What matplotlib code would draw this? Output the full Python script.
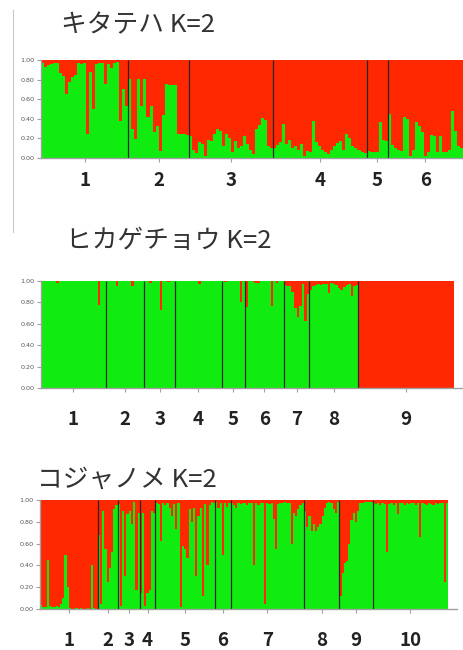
import numpy as np
import matplotlib
matplotlib.use("Agg")
import matplotlib.pyplot as plt
from matplotlib.transforms import blended_transform_factory
from matplotlib.lines import Line2D

plt.rcParams['font.family'] = ['Noto Sans CJK JP', 'DejaVu Sans']

# ---- data: green-cluster membership (Q) per individual, grouped by population ----
kitateha_title = "キタテハ K=2"
kitateha_pops = ["1", "2", "3", "4", "5", "6"]
kitateha_q = [
    [0.97, 0.93, 0.95, 0.96, 0.97, 0.97, 0.87, 0.84, 0.65, 0.78, 0.83, 0.85, 0.97, 0.96, 0.97,
     0.25, 0.88, 0.50, 0.96, 0.97, 0.97, 0.76, 0.96, 0.92, 0.97, 0.98, 0.38, 0.70, 0.53],
    [0.81, 0.30, 0.19, 0.81, 0.53, 0.81, 0.42, 0.53, 0.27, 0.33, 0.07, 0.44, 0.76, 0.75, 0.74,
     0.75, 0.24, 0.24, 0.24, 0.23],
    [0.22, 0.08, 0.05, 0.16, 0.14, 0.02, 0.18, 0.17, 0.24, 0.30, 0.28, 0.12, 0.24, 0.20, 0.06,
     0.17, 0.10, 0.12, 0.22, 0.14, 0.08, 0.04, 0.30, 0.34, 0.41, 0.39, 0.12, 0.10],
    [0.10, 0.13, 0.16, 0.35, 0.14, 0.18, 0.10, 0.12, 0.08, 0.14, 0.02, 0.07, 0.06, 0.38, 0.16,
     0.12, 0.08, 0.06, 0.04, 0.08, 0.12, 0.15, 0.17, 0.08, 0.25, 0.20, 0.12, 0.10, 0.08, 0.06, 0.05],
    [0.07, 0.06, 0.06, 0.06, 0.37, 0.18, 0.17],
    [0.45, 0.13, 0.10, 0.08, 0.07, 0.42, 0.40, 0.02, 0.08, 0.37, 0.33, 0.27, 0.02, 0.06, 0.23,
     0.22, 0.06, 0.22, 0.06, 0.06, 0.08, 0.48, 0.28, 0.12, 0.10],
]

hikagechou_title = "ヒカゲチョウ K=2"
hikagechou_pops = ["1", "2", "3", "4", "5", "6", "7", "8", "9"]
hikagechou_q = [
    [1, 1, 1, 1, 1, 1, 0.98, 1, 1, 1, 1, 1, 1, 1, 1, 1, 1, 1, 1, 1, 1, 1, 0.78, 1, 1],
    [1, 1, 1, 1, 0.95, 1, 1, 1, 1, 1, 0.95, 1, 1, 1, 1],
    [1, 1, 0.98, 1, 1, 1, 0.73, 1, 1, 0.99, 1, 1],
    [1, 1, 1, 1, 1, 1, 1, 1, 1, 0.97, 1, 1, 1, 1, 1, 1, 1, 1],
    [1, 0.99, 1, 1, 1, 1, 1, 0.80, 1],
    [0.76, 1, 1, 0.99, 0.98, 0.98, 1, 1, 1, 1, 0.77, 1, 0.98, 1, 1],
    [0.96, 0.95, 0.95, 0.90, 0.75, 0.66, 0.77, 0.97, 0.63, 0.88],
    [0.92, 0.95, 0.96, 0.97, 0.96, 0.97, 0.97, 0.89, 0.98, 0.97, 0.96, 0.93, 0.92, 0.94, 0.96,
     0.97, 0.86, 0.95, 0.96],
    [0.0] * 37,
]

kojanome_title = "コジャノメ K=2"
kojanome_pops = ["1", "2", "3", "4", "5", "6", "7", "8", "9", "10"]
kojanome_q = [
    [0.04, 0.02, 0.02, 0.45, 0.03, 0.02, 0.02, 0.03, 0.02, 0.05, 0.10, 0.50, 0.20, 0.01, 0.0,
     0.0, 0.01, 0.0, 0.01, 0.0, 0.0, 0.01, 0.0, 0.40, 0.01, 0.0],
    [0.68, 0.05, 0.90, 0.55, 0.25, 0.38, 0.52, 0.92, 0.95],
    [0.96, 0.03, 0.90, 0.30, 0.87, 0.90, 0.78, 0.98, 0.17, 0.88],
    [0.15, 0.88, 0.03, 0.15, 0.17, 0.90, 0.88],
    [0.97, 0.96, 0.62, 0.97, 0.95, 0.97, 0.93, 0.85, 0.96, 0.73, 0.97, 0.02, 0.58, 0.55, 0.47,
     0.92, 0.80, 0.93, 0.30, 0.85, 0.93, 0.12, 0.96, 0.40, 0.95, 0.98, 0.97],
    [0.98, 0.93, 0.97, 0.50, 0.97, 0.94, 0.97],
    [0.97, 0.95, 0.93, 0.97, 0.96, 0.97, 0.97, 0.95, 0.97, 0.97, 0.40, 0.97, 0.95, 0.97, 0.97,
     0.05, 0.97, 0.96, 0.97, 0.83, 0.55, 0.96, 0.97, 0.97, 0.98, 0.97, 0.97, 0.60, 0.88, 0.85,
     0.92, 0.95, 0.97],
    [0.90, 0.75, 0.85, 0.72, 0.78, 0.72, 0.75, 0.78, 0.85, 0.93, 0.97, 0.98, 0.97, 0.92, 0.88, 0.98],
    [0.12, 0.33, 0.42, 0.44, 0.60, 0.82, 0.88, 0.80, 0.90, 0.97, 0.97, 0.98, 0.98, 0.98, 0.98],
    [0.97, 0.96, 0.97, 0.95, 0.97, 0.96, 0.52, 0.96, 0.97, 0.95, 0.97, 0.87, 0.97, 0.97, 0.95,
     0.97, 0.96, 0.97, 0.97, 0.95, 0.97, 0.66, 0.97, 0.96, 0.95, 0.97, 0.96, 0.95, 0.97, 0.96,
     0.97, 0.97, 0.25, 0.97],
]

y_ticks = [0.0, 0.2, 0.4, 0.6, 0.8, 1.0]
y_ticklabels = ["0.00", "0.20", "0.40", "0.60", "0.80", "1.00"]

GREEN = "#10EC10"
RED = "#FF2800"
SEP = "#262626"
AXIS_GRAY = "#a0a0a0"

W, H = 464, 650
fig = plt.figure(figsize=(W / 100, H / 100), dpi=100)


def px_axes(left, top, right, bottom):
    return fig.add_axes([left / W, 1 - bottom / H, (right - left) / W, (bottom - top) / H])


def structure_panel(ax, groups, labels, title, title_xy, label_offset, xpad):
    q = np.concatenate([np.asarray(g, float) for g in groups])
    n = len(q)
    edges = np.arange(n + 1)
    # red cluster fills from the green share up to 1
    ax.stairs(np.ones(n), edges, baseline=q, fill=True, color=RED, linewidth=0)
    ax.stairs(q, edges, baseline=0, fill=True, color=GREEN, linewidth=0)

    counts = np.array([len(g) for g in groups])
    bounds = np.cumsum(counts)
    ax.vlines(bounds[:-1], 0, 1, color=SEP, linewidth=0.9)

    ax.set_xlim(0, n * xpad)
    ax.set_ylim(0, 1)
    for s in ("top", "right"):
        ax.spines[s].set_visible(False)
    for s in ("left", "bottom"):
        ax.spines[s].set_color(AXIS_GRAY)
        ax.spines[s].set_linewidth(1.0)
    ax.set_yticks(y_ticks)
    ax.set_yticklabels(y_ticklabels, fontsize=4.6, color="#555555", family="DejaVu Sans")
    ax.tick_params(axis="y", length=3, width=0.8, color=AXIS_GRAY, pad=1.5)

    centers = bounds - counts / 2.0
    ax.set_xticks(centers)
    ax.set_xticklabels([])
    ax.tick_params(axis="x", length=3, width=0.8, color=AXIS_GRAY)

    tr = blended_transform_factory(ax.transData, ax.transAxes)
    for c, lab in zip(centers, labels):
        ax.text(c, label_offset, lab, transform=tr, ha="center", va="center",
                fontsize=13.5, fontweight="bold", color="#222222")

    fig.text(title_xy[0] / W, 1 - title_xy[1] / H, title, ha="left", va="center",
             fontsize=18.5, color="#333333")


ax1 = px_axes(41, 60, 463, 158)
structure_panel(ax1, kitateha_q, kitateha_pops, kitateha_title, (61, 25), -0.23, 1.0)

ax2 = px_axes(41, 281, 463, 388)
structure_panel(ax2, hikagechou_q, hikagechou_pops, hikagechou_title, (66, 241), -0.29, 422 / 413)

ax3 = px_axes(40, 500, 457, 609)
structure_panel(ax3, kojanome_q, kojanome_pops, kojanome_title, (37, 480), -0.285, 417 / 408)

# thin slide rule on the left margin
fig.add_artist(Line2D([13 / W, 13 / W], [1 - 10 / H, 1 - 232 / H], color="#c8c8c8", linewidth=0.8))

fig.savefig("out.png", dpi=100)
